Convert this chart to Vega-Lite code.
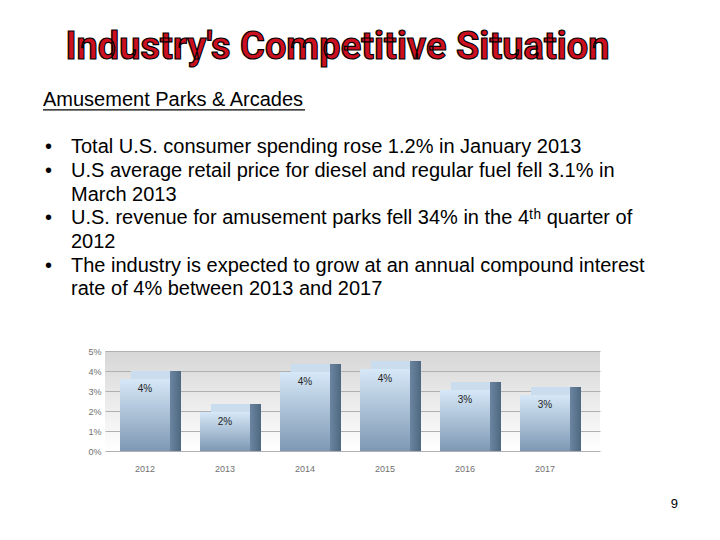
{
  "$schema": "https://vega.github.io/schema/vega-lite/v6.json",
  "padding": {"top": 29, "left": 0, "right": 0, "bottom": 0},
  "config": {
    "view": {"stroke": null},
    "font": "Liberation Sans",
    "style": {"bigtitle": {"stroke": "#000000", "strokeWidth": 1.2}}
  },
  "title": {
    "text": "9",
    "orient": "bottom",
    "anchor": "end",
    "fontSize": 13,
    "fontWeight": "normal",
    "color": "#000000",
    "offset": 25,
    "dx": -27
  },
  "bounds": "flush",
  "center": true,
  "spacing": 50,
  "vconcat": [
    {
      "width": 705,
      "height": 213,
      "view": {"fill": "#ffffff", "stroke": null},
      "title": {
        "text": "Industry's Competitive Situation",
        "style": "bigtitle",
        "font": "Roboto",
        "fontSize": 38,
        "fontWeight": "bold",
        "color": "#cc1020",
        "anchor": "middle",
        "dx": -15,
        "offset": 21
      },
      "data": {
        "values": [
          {"line": 2, "level": 0, "text": "Amusement Parks & Arcades"},
          {"line": 4, "level": 1, "bullet": true, "text": "Total U.S. consumer spending rose 1.2% in January 2013"},
          {"line": 5, "level": 1, "bullet": true, "text": "U.S average retail price for diesel and regular fuel fell 3.1% in"},
          {"line": 6, "level": 1, "text": "March 2013"},
          {"line": 7, "level": 1, "bullet": true, "text": "U.S. revenue for amusement parks fell 34% in the 4ᵗʰ quarter of"},
          {"line": 8, "level": 1, "text": "2012"},
          {"line": 9, "level": 1, "bullet": true, "text": "The industry is expected to grow at an annual compound interest"},
          {"line": 10, "level": 1, "text": "rate of 4% between 2013 and 2017"}
        ]
      },
      "encoding": {
        "y": {"field": "line", "type": "quantitative", "scale": {"domain": [10.5, 1.5], "nice": false, "zero": false}, "axis": null},
        "x": {"field": "level", "type": "quantitative", "scale": {"domain": [0, 1], "range": [43, 71], "nice": false, "zero": false}, "axis": null}
      },
      "layer": [
        {
          "mark": {"type": "text", "align": "left", "baseline": "middle", "fontSize": 20, "color": "#000000"},
          "encoding": {"text": {"field": "text"}}
        },
        {
          "transform": [{"filter": "datum.bullet"}],
          "mark": {"type": "text", "align": "left", "baseline": "middle", "fontSize": 20, "dx": -26, "color": "#000000"},
          "encoding": {"text": {"value": "•"}}
        },
        {
          "transform": [{"filter": "datum.level == 0"}],
          "mark": {"type": "rule", "yOffset": 10, "strokeWidth": 1.2, "color": "#000000"},
          "encoding": {"x2": {"value": 305}}
        }
      ]
    },
    {
      "width": 495,
      "height": 100,
      "view": {
        "stroke": null,
        "fill": {
          "gradient": "linear", "x1": 0, "y1": 0, "x2": 0, "y2": 1,
          "stops": [{"offset": 0, "color": "#d6d6d6"}, {"offset": 1, "color": "#ffffff"}]
        }
      },
      "data": {
        "values": [
          {"year": "2012", "rate": 0.036},
          {"year": "2013", "rate": 0.0195},
          {"year": "2014", "rate": 0.0395},
          {"year": "2015", "rate": 0.041},
          {"year": "2016", "rate": 0.0305},
          {"year": "2017", "rate": 0.028}
        ]
      },
      "encoding": {
        "x": {
          "field": "year", "type": "ordinal", "title": null,
          "scale": {"paddingInner": 0, "paddingOuter": 0.09375, "align": 0},
          "axis": {"labelAngle": 0, "ticks": false, "domain": false, "labelFontSize": 9, "labelColor": "#707070", "labelPadding": 13}
        },
        "y": {
          "field": "rate", "type": "quantitative", "title": null, "stack": null,
          "scale": {"domain": [0, 0.05], "nice": false},
          "axis": {"format": ".0%", "values": [0, 0.01, 0.02, 0.03, 0.04, 0.05], "ticks": false, "domain": false, "labelFontSize": 9, "labelColor": "#707070", "gridColor": "#b0b0b0", "labelPadding": 4}
        }
      },
      "layer": [
        {
          "data": {"values": [{}]},
          "mark": {"type": "rule", "color": "#c0c4a9", "strokeWidth": 9, "yOffset": 5},
          "encoding": {"x": null, "y": {"datum": 0}}
        },
        {
          "mark": {
            "type": "bar", "size": 50, "xOffset": 11, "yOffset": -8, "y2Offset": 0.01,
            "color": {
              "gradient": "linear", "x1": 0, "y1": 0, "x2": 1, "y2": 0,
              "stops": [
                {"offset": 0, "color": "#c9ddef"},
                {"offset": 0.77, "color": "#c9ddef"},
                {"offset": 0.78, "color": "#6b85a0"},
                {"offset": 1, "color": "#4f6882"}
              ]
            }
          },
          "encoding": {"y2": {"datum": 0}}
        },
        {
          "mark": {
            "type": "bar", "size": 50,
            "color": {
              "gradient": "linear", "x1": 0, "y1": 0, "x2": 0, "y2": 1,
              "stops": [{"offset": 0, "color": "#d6e8f8"}, {"offset": 1, "color": "#7e98b3"}]
            }
          }
        },
        {
          "mark": {"type": "text", "dy": 10, "baseline": "middle", "fontSize": 10, "color": "#222222"},
          "encoding": {"text": {"field": "rate", "type": "quantitative", "format": ".0%"}}
        }
      ]
    }
  ]
}
